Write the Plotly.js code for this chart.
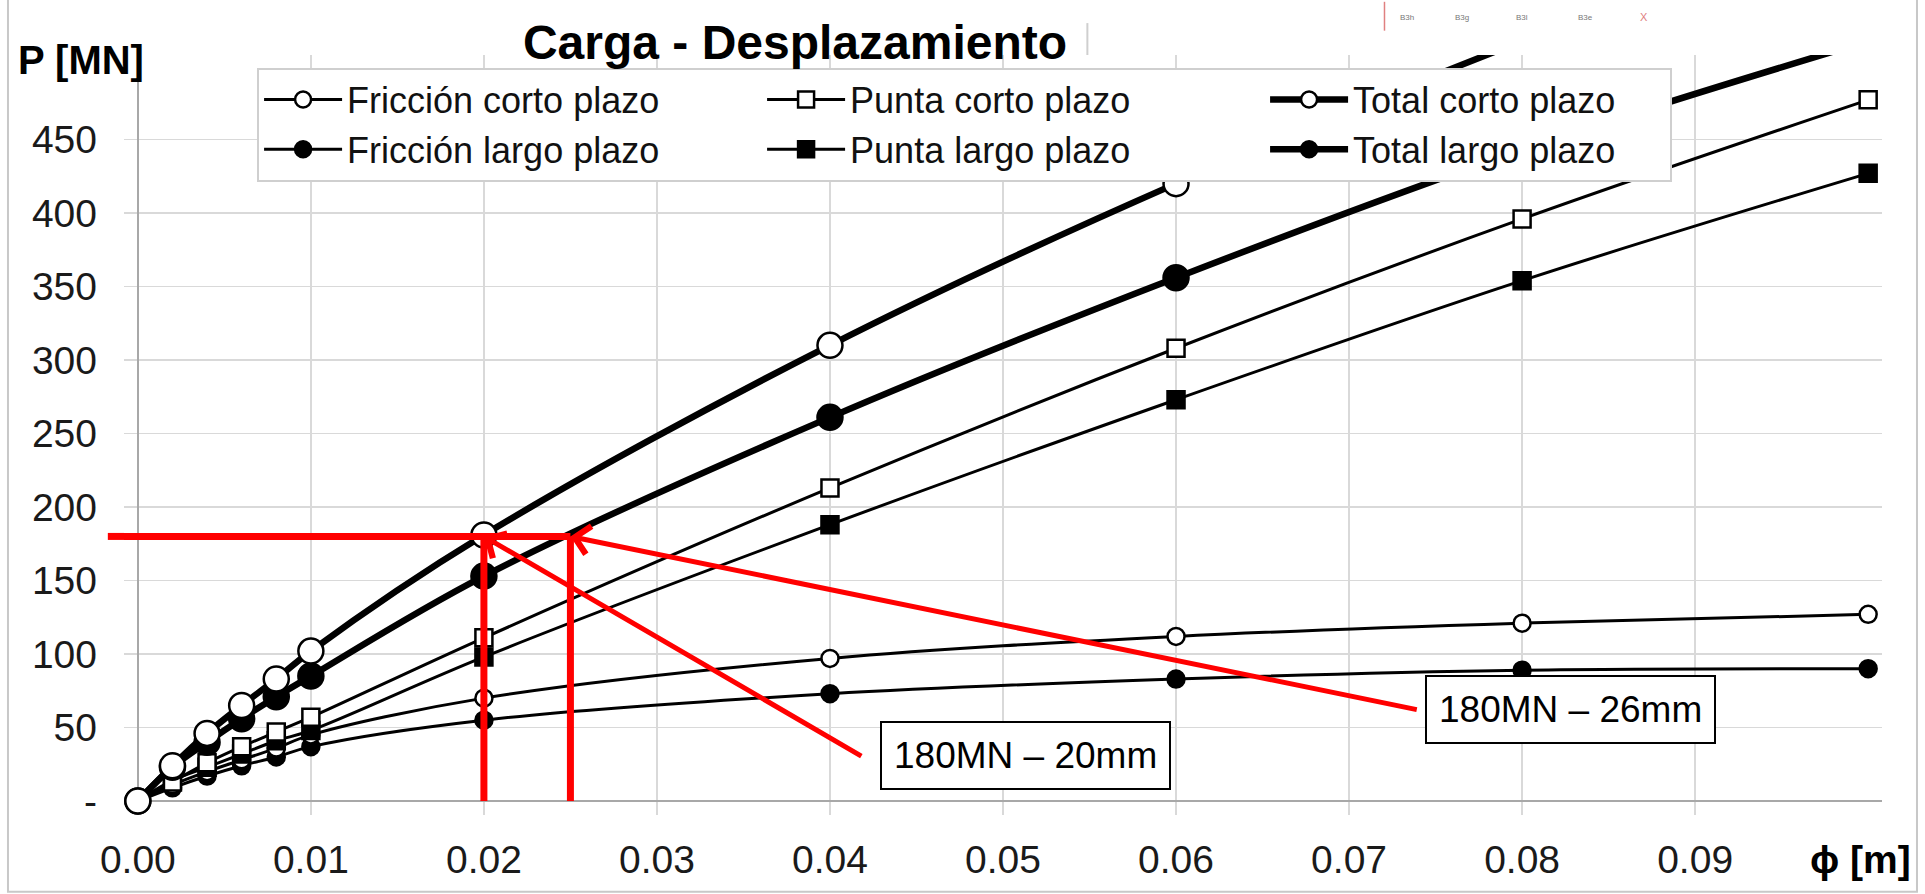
<!DOCTYPE html>
<html>
<head>
<meta charset="utf-8">
<script src="https://cdn.plot.ly/plotly-3.0.1.min.js"></script>
<style>
  html, body { margin: 0; padding: 0; background: #ffffff; }
  #chart { width: 1925px; height: 894px; }
</style>
</head>
<body>
<div id="chart"></div>
<script>
// ---- data ----
const desplazamiento = [0, 0.002, 0.004, 0.006, 0.008, 0.01, 0.02, 0.04, 0.06, 0.08, 0.1];
const friccionCorto  = [0, 11, 20, 28, 36, 45, 70, 97, 112, 121, 127];
const friccionLargo  = [0, 9, 17, 24, 30, 37, 55, 73, 83, 89, 90];
const puntaCorto     = [0, 13, 26, 37, 47, 57, 111, 213, 308, 396, 477];
const puntaLargo     = [0, 14, 23, 32, 41, 48, 98, 188, 273, 354, 427];
const totalCorto     = [0, 24, 46, 65, 83, 102, 181, 310, 420, 517, 604];
const totalLargo     = [0, 23, 40, 56, 71, 85, 153, 261, 356, 443, 517];

const seriesNames = ['Fricción corto plazo', 'Fricción largo plazo', 'Punta corto plazo',
                     'Punta largo plazo', 'Total corto plazo', 'Total largo plazo'];

const xTickVals  = [0, 0.01, 0.02, 0.03, 0.04, 0.05, 0.06, 0.07, 0.08, 0.09];
const xTickText  = ['0.00', '0.01', '0.02', '0.03', '0.04', '0.05', '0.06', '0.07', '0.08', '0.09'];
const yTickVals  = [0, 50, 100, 150, 200, 250, 300, 350, 400, 450];
const yTickText  = ['-', '50', '100', '150', '200', '250', '300', '350', '400', '450'];

const cargaRef = 180;                 // MN
const despRef  = [0.02, 0.025];       // m (corto plazo, largo plazo)
const labelRef = ['180MN – 20mm', '180MN – 26mm'];

// ---- styling ----
const FONT = 'Liberation Sans, Arial, Helvetica, sans-serif';
const xRange = [-0.0008, 0.1008];
const yRange = [-9.5, 507.5];
const RED = '#ff0000';

function tr(name, y, symbol, filled, size, width, rank, lw) {
  const t = {
    type: 'scatter', mode: 'lines+markers', name: name,
    x: desplazamiento, y: y, legendrank: rank,
    line: { color: '#000', width: width, shape: 'spline', smoothing: 1 },
    marker: { symbol: symbol, size: size, color: filled ? '#000' : '#fff',
              line: { color: '#000', width: 2.5 } },
    cliponaxis: true
  };
  if (lw) t.legendwidth = lw;
  return t;
}

const data = [
  tr(seriesNames[1], friccionLargo, 'circle', true, 17, 3, 4),
  tr(seriesNames[0], friccionCorto, 'circle', false, 17, 3, 1),
  tr(seriesNames[3], puntaLargo, 'square', true, 17, 3, 5),
  tr(seriesNames[2], puntaCorto, 'square', false, 17, 3, 2),
  tr(seriesNames[5], totalLargo, 'circle', true, 25, 6.5, 6, 312),
  tr(seriesNames[4], totalCorto, 'circle', false, 25, 6.5, 3, 312)
];

const shapes = [
  // red reference lines
  { type: 'line', xref: 'paper', yref: 'y', x0: -0.0092, x1: 0, y0: cargaRef, y1: cargaRef,
    line: { color: RED, width: 7 } },
  { type: 'line', xref: 'x', yref: 'y', x0: xRange[0], x1: despRef[1], y0: cargaRef, y1: cargaRef,
    line: { color: RED, width: 7 } },
  { type: 'line', xref: 'x', yref: 'y', x0: despRef[0], x1: despRef[0], y0: 0, y1: cargaRef,
    line: { color: RED, width: 7 } },
  { type: 'line', xref: 'x', yref: 'y', x0: despRef[1], x1: despRef[1], y0: 0, y1: cargaRef,
    line: { color: RED, width: 7 } },
  // outer chart frame
  { type: 'rect', xref: 'paper', yref: 'paper', x0: -0.066, x1: 1.0199, y0: -0.101, y1: 1.08,
    line: { color: '#c8c8c8', width: 2 }, fillcolor: 'rgba(0,0,0,0)' },
  // small frame fragment next to the title
  { type: 'line', xref: 'paper', yref: 'paper', x0: 0.548, x1: 0.548, y0: 1.0, y1: 1.042,
    line: { color: '#cfcfcf', width: 2 } },
  // red fragment top right
  { type: 'line', xref: 'paper', yref: 'paper', x0: 0.717, x1: 0.717, y0: 1.032, y1: 1.07,
    line: { color: '#e08080', width: 1.5 } }
];

const annotations = [
  // arrows
  { x: despRef[0], y: cargaRef, xref: 'x', yref: 'y', ax: 0.0419, ay: 30, axref: 'x', ayref: 'y',
    text: '', showarrow: true, arrowhead: 4, arrowsize: 1.1, arrowwidth: 5, arrowcolor: RED, standoff: 0 },
  { x: despRef[1], y: cargaRef, xref: 'x', yref: 'y', ax: 0.0740, ay: 62, axref: 'x', ayref: 'y',
    text: '', showarrow: true, arrowhead: 4, arrowsize: 1.1, arrowwidth: 5, arrowcolor: RED, standoff: 0 },
  // label boxes
  { x: 0.0513, y: 31, xref: 'x', yref: 'y', text: labelRef[0], showarrow: false,
    font: { family: FONT, size: 37, color: '#000' }, bgcolor: '#fff', bordercolor: '#000',
    borderwidth: 2, borderpad: 12, xanchor: 'center', yanchor: 'middle' },
  { x: 0.0828, y: 62.5, xref: 'x', yref: 'y', text: labelRef[1], showarrow: false,
    font: { family: FONT, size: 37, color: '#000' }, bgcolor: '#fff', bordercolor: '#000',
    borderwidth: 2, borderpad: 12, xanchor: 'center', yanchor: 'middle' },
  // axis names
  { x: -0.0245, y: 0.9934, xref: 'paper', yref: 'paper', text: '<b>P [MN]</b>', showarrow: false,
    font: { family: FONT, size: 40, color: '#000' }, xanchor: 'center', yanchor: 'middle' },
  { x: 0.988, y: -0.059, xref: 'paper', yref: 'paper', text: '<b>ϕ [m]</b>', showarrow: false,
    font: { family: FONT, size: 39, color: '#000' }, xanchor: 'center', yanchor: 'middle' },
  // tiny fragments of another figure at the top right
  { x: 0.735, y: 1.058, xref: 'paper', yref: 'paper', text: 'B3h', showarrow: false, font: { family: FONT, size: 8, color: '#777' } },
  { x: 0.766, y: 1.058, xref: 'paper', yref: 'paper', text: 'B3g', showarrow: false, font: { family: FONT, size: 8, color: '#777' } },
  { x: 0.8, y: 1.058, xref: 'paper', yref: 'paper', text: 'B3l', showarrow: false, font: { family: FONT, size: 8, color: '#777' } },
  { x: 0.837, y: 1.058, xref: 'paper', yref: 'paper', text: 'B3e', showarrow: false, font: { family: FONT, size: 8, color: '#777' } },
  { x: 0.868, y: 1.06, xref: 'paper', yref: 'paper', text: 'X', showarrow: false, font: { family: FONT, size: 11, color: '#e08080' } }
];

const layout = {
  width: 1925, height: 894,
  margin: { l: 124, r: 43, t: 55, b: 79, pad: 0 },
  paper_bgcolor: '#fff', plot_bgcolor: '#fff',
  font: { family: FONT, color: '#111' },
  title: { text: '<b>Carga - Desplazamiento</b>', font: { family: FONT, size: 48, color: '#000' },
           xref: 'container', yref: 'container', x: 0.413, xanchor: 'center', y: 0.953, yanchor: 'middle' },
  xaxis: {
    range: xRange, tickvals: xTickVals, ticktext: xTickText, ticks: '',
    showgrid: true, gridcolor: '#d9d9d9', gridwidth: 1.5,
    zeroline: true, zerolinecolor: '#a8a8a8', zerolinewidth: 1.5,
    showline: false, tickfont: { family: FONT, size: 39, color: '#1a1a1a' },
    ticklabelstandoff: 18, fixedrange: true
  },
  yaxis: {
    range: yRange, tickvals: yTickVals, ticktext: yTickText, ticks: '',
    showgrid: true, gridcolor: '#d9d9d9', gridwidth: 1.5,
    zeroline: true, zerolinecolor: '#a8a8a8', zerolinewidth: 1.5,
    showline: false, tickfont: { family: FONT, size: 39, color: '#1a1a1a' },
    ticklabelstandoff: 26, fixedrange: true
  },
  showlegend: true,
  legend: {
    orientation: 'h', x: 0.0757, y: 0.9835, xanchor: 'left', yanchor: 'top',
    bgcolor: '#fff', bordercolor: '#cfcfcf', borderwidth: 2,
    font: { family: FONT, size: 36, color: '#111' },
    entrywidth: 410, entrywidthmode: 'pixels', itemwidth: 78, traceorder: 'normal'
  },
  shapes: shapes,
  annotations: annotations
};

Plotly.newPlot('chart', data, layout, { displayModeBar: false, staticPlot: true });
</script>
</body>
</html>
